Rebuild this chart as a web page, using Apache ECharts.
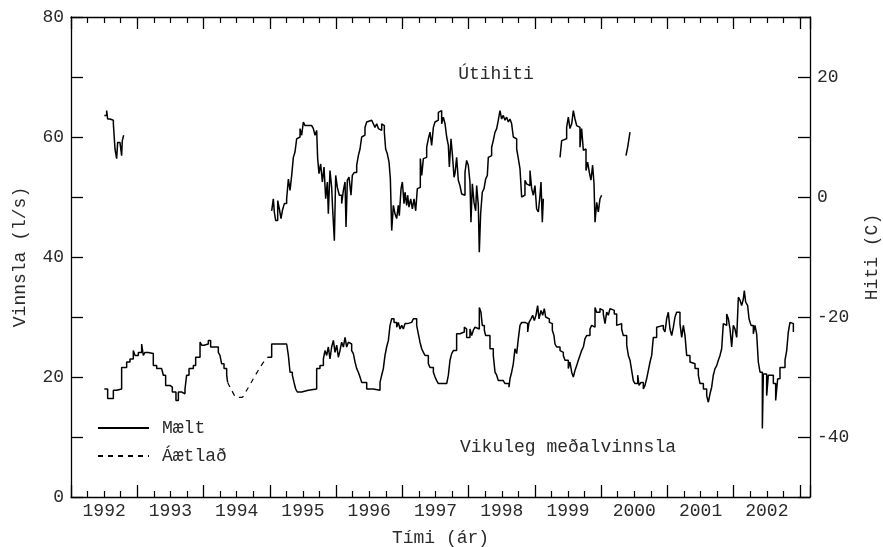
<!DOCTYPE html>
<html>
<head>
<meta charset="utf-8">
<script src="https://cdn.jsdelivr.net/npm/echarts@6/dist/echarts.min.js"></script>
<style>html,body{margin:0;padding:0;background:#fff}#c{width:883px;height:547px}</style>
</head>
<body>
<div id="c"></div>
<script>
// Year labels (drawn at mid-year)
const yearLabels = [1992,1993,1994,1995,1996,1997,1998,1999,2000,2001,2002];

// Weekly mean production (l/s), measured, before the gap
const vinnslaMaeltA = [[1992.503,18.0],[1992.553,16.4],[1992.639,17.8],[1992.689,18.0],[1992.764,21.6],[1992.840,22.5],[1992.890,23.0],[1992.940,24.4],[1992.966,23.6],[1993.016,24.1],[1993.066,25.5],[1993.091,23.6],[1993.117,24.1],[1993.167,23.9],[1993.242,21.9],[1993.293,21.4],[1993.368,21.1],[1993.393,20.3],[1993.428,18.6],[1993.494,18.3],[1993.529,17.5],[1993.584,16.1],[1993.620,17.5],[1993.670,17.2],[1993.720,18.0],[1993.745,20.3],[1993.781,21.4],[1993.846,21.9],[1993.881,23.3],[1993.947,25.8],[1993.972,25.3],[1994.007,25.5],[1994.072,26.1],[1994.107,25.0],[1994.173,25.3],[1994.198,25.0],[1994.223,24.1],[1994.248,23.6],[1994.273,22.2],[1994.309,21.4],[1994.349,20.3],[1994.364,19.1]];

// Estimated production (l/s) across the gap
const vinnslaAetlad = [[1994.364,19.1],[1994.424,17.8],[1994.500,16.6],[1994.575,16.6],[1994.651,17.8],[1994.751,19.7],[1994.852,21.6],[1994.927,22.8],[1994.968,23.3]];

// Weekly mean production (l/s), measured, after the gap
const vinnslaMaeltB = [[1994.968,23.3],[1995.028,25.5],[1995.254,25.5],[1995.280,23.6],[1995.305,20.8],[1995.340,20.3],[1995.365,19.1],[1995.390,18.0],[1995.415,17.5],[1995.481,17.8],[1995.581,18.0],[1995.707,21.4],[1995.757,21.9],[1995.808,23.0],[1995.833,24.4],[1995.858,23.6],[1995.883,25.0],[1995.908,23.0],[1995.933,25.0],[1995.959,26.1],[1995.984,24.1],[1996.009,25.3],[1996.034,23.3],[1996.059,24.4],[1996.084,25.8],[1996.110,25.0],[1996.135,26.6],[1996.160,25.0],[1996.185,25.8],[1996.210,25.5],[1996.235,24.4],[1996.260,23.9],[1996.286,22.5],[1996.311,21.4],[1996.336,20.8],[1996.361,20.0],[1996.386,19.1],[1996.462,18.0],[1996.562,17.8],[1996.663,19.1],[1996.688,20.3],[1996.713,21.4],[1996.738,23.6],[1996.763,25.0],[1996.789,26.1],[1996.814,28.6],[1996.839,29.7],[1996.874,29.1],[1996.914,28.3],[1996.939,29.1],[1996.965,28.0],[1996.990,28.6],[1997.015,28.0],[1997.040,28.9],[1997.075,29.1],[1997.141,29.4],[1997.166,29.7],[1997.216,28.6],[1997.241,27.2],[1997.266,25.8],[1997.292,24.7],[1997.317,24.1],[1997.342,23.6],[1997.392,22.2],[1997.417,21.6],[1997.468,20.8],[1997.493,20.0],[1997.518,19.4],[1997.543,18.9],[1997.669,18.6],[1997.694,20.3],[1997.719,22.8],[1997.744,23.9],[1997.770,24.4],[1997.794,24.4],[1997.819,27.2],[1997.869,27.5],[1997.935,28.3],[1997.955,28.0],[1997.970,26.6],[1998.020,28.0],[1998.046,26.9],[1998.071,27.8],[1998.096,28.3],[1998.121,28.0],[1998.161,31.6],[1998.186,30.8],[1998.206,28.6],[1998.237,27.8],[1998.257,26.9],[1998.322,24.7],[1998.372,23.6],[1998.398,20.8],[1998.423,20.3],[1998.448,19.4],[1998.523,19.1],[1998.549,18.9],[1998.609,18.3],[1998.624,19.7],[1998.649,20.8],[1998.674,22.2],[1998.699,24.7],[1998.725,23.9],[1998.750,26.4],[1998.775,28.6],[1998.800,29.1],[1998.850,29.4],[1998.875,28.9],[1998.891,27.5],[1998.911,29.1],[1998.941,29.7],[1998.966,30.3],[1998.991,29.4],[1999.016,30.3],[1999.041,31.9],[1999.062,29.7],[1999.092,31.1],[1999.117,30.3],[1999.142,31.4],[1999.162,30.0],[1999.192,29.7],[1999.218,29.1],[1999.243,28.9],[1999.263,27.8],[1999.288,26.9],[1999.303,25.5],[1999.328,25.0],[1999.379,24.4],[1999.404,24.1],[1999.429,23.6],[1999.454,22.8],[1999.504,21.4],[1999.529,22.5],[1999.555,20.8],[1999.580,20.0],[1999.605,21.1],[1999.630,21.9],[1999.655,22.8],[1999.680,23.6],[1999.705,24.4],[1999.731,25.0],[1999.756,26.4],[1999.781,26.9],[1999.831,28.0],[1999.856,28.6],[1999.882,28.3],[1999.907,31.6],[1999.932,30.8],[1999.982,31.4],[2000.007,31.1],[2000.032,30.5],[2000.058,28.9],[2000.083,30.8],[2000.108,30.3],[2000.133,31.4],[2000.158,31.1],[2000.198,30.5],[2000.234,28.6],[2000.259,28.9],[2000.309,28.0],[2000.334,26.9],[2000.385,25.3],[2000.410,23.6],[2000.435,22.8],[2000.460,21.1],[2000.485,19.4],[2000.510,18.9],[2000.551,20.3],[2000.571,18.6],[2000.601,19.1],[2000.636,18.0],[2000.661,18.6],[2000.686,19.7],[2000.712,21.1],[2000.737,22.5],[2000.762,23.6],[2000.787,26.6],[2000.837,28.3],[2000.862,28.6],[2000.938,28.0],[2000.963,27.5],[2000.988,29.7],[2001.013,30.8],[2001.038,28.0],[2001.064,26.9],[2001.089,28.3],[2001.114,30.0],[2001.139,30.8],[2001.189,28.9],[2001.215,26.6],[2001.240,28.6],[2001.265,26.9],[2001.290,23.6],[2001.340,22.5],[2001.365,22.2],[2001.416,21.4],[2001.466,20.3],[2001.491,18.9],[2001.542,18.0],[2001.592,16.9],[2001.617,15.8],[2001.642,17.2],[2001.667,18.3],[2001.692,20.3],[2001.718,21.4],[2001.743,21.9],[2001.768,22.8],[2001.793,23.6],[2001.818,24.7],[2001.843,28.9],[2001.868,28.6],[2001.894,30.5],[2001.919,29.7],[2001.944,28.0],[2001.969,25.0],[2001.994,28.6],[2002.019,28.0],[2002.045,26.6],[2002.070,33.3],[2002.095,32.8],[2002.120,31.9],[2002.145,33.0],[2002.160,34.4],[2002.180,32.5],[2002.210,31.9],[2002.231,29.7],[2002.261,28.6],[2002.296,27.2],[2002.321,28.6],[2002.346,27.2],[2002.371,22.5],[2002.397,20.8],[2002.432,11.4],[2002.447,20.5],[2002.497,16.9],[2002.522,20.3],[2002.598,18.9],[2002.633,16.1],[2002.663,19.7],[2002.698,21.6],[2002.774,22.8],[2002.799,24.4],[2002.824,27.5],[2002.849,29.1],[2002.874,28.9],[2002.900,27.5]];

// Outdoor temperature (C), separate measured stretches
const hitiSeg1 = [[1992.503,13.6],[1992.538,14.4],[1992.553,13.0],[1992.588,12.8],[1992.639,12.2],[1992.664,8.0],[1992.689,6.4],[1992.704,9.1],[1992.739,9.4],[1992.764,6.9],[1992.774,9.4],[1992.795,10.3]];
const hitiSeg2 = [[1995.028,-2.3],[1995.053,-0.3],[1995.068,-2.5],[1995.088,-3.9],[1995.119,-0.6],[1995.144,-2.0],[1995.169,-3.6],[1995.189,-2.3],[1995.219,-1.1],[1995.254,-0.3],[1995.280,3.0],[1995.305,1.1],[1995.330,3.6],[1995.355,6.6],[1995.380,7.5],[1995.405,9.7],[1995.430,10.0],[1995.456,11.4],[1995.481,10.3],[1995.506,12.5],[1995.531,11.9],[1995.581,11.9],[1995.632,11.9],[1995.657,11.4],[1995.682,10.3],[1995.707,11.1],[1995.722,6.4],[1995.742,3.9],[1995.767,5.5],[1995.793,2.5],[1995.818,5.0],[1995.843,-0.3],[1995.868,2.5],[1995.883,-2.8],[1995.908,4.4],[1995.933,1.6],[1995.948,-2.0],[1995.974,-7.3],[1995.994,3.6],[1996.019,1.6],[1996.049,0.3],[1996.084,-1.1],[1996.110,1.1],[1996.135,2.5],[1996.150,-5.0],[1996.170,2.8],[1996.195,3.3],[1996.225,0.3],[1996.245,3.6],[1996.275,4.1],[1996.311,5.3],[1996.336,6.9],[1996.361,8.0],[1996.386,10.0],[1996.411,10.3],[1996.436,11.6],[1996.462,12.5],[1996.487,12.8],[1996.537,12.5],[1996.562,12.2],[1996.587,11.6],[1996.613,12.2],[1996.638,11.4],[1996.663,11.1],[1996.688,12.2],[1996.713,11.9],[1996.728,10.8],[1996.748,8.0],[1996.773,7.2],[1996.799,5.8],[1996.819,3.0],[1996.839,-5.6],[1996.864,-1.4],[1996.889,-2.8],[1996.914,-3.6],[1996.939,-1.4],[1996.954,-3.1],[1996.980,1.4],[1997.000,2.5],[1997.025,-1.1],[1997.040,0.8],[1997.065,-1.4],[1997.080,0.3],[1997.100,-1.7],[1997.126,-0.3],[1997.151,-2.0],[1997.176,-0.3],[1997.201,-2.3],[1997.226,1.4],[1997.251,1.6],[1997.271,6.4],[1997.292,3.6],[1997.317,6.4],[1997.342,6.6],[1997.367,8.3],[1997.392,9.7],[1997.417,10.8],[1997.442,8.6],[1997.468,11.6],[1997.493,12.5],[1997.518,12.8],[1997.543,14.1],[1997.568,14.4],[1997.593,12.2],[1997.618,13.3],[1997.644,12.2],[1997.669,10.0],[1997.694,8.6],[1997.709,5.0],[1997.734,9.7],[1997.754,7.2],[1997.780,3.3],[1997.794,3.9],[1997.819,6.6],[1997.844,2.8],[1997.869,1.9],[1997.895,0.5],[1997.920,0.3],[1997.945,4.1],[1997.970,6.1],[1997.995,5.3],[1998.020,2.5],[1998.035,-4.2],[1998.056,2.2],[1998.081,-0.9],[1998.106,-2.3],[1998.121,1.9],[1998.146,-1.4],[1998.161,-9.2],[1998.181,-2.8],[1998.206,0.8],[1998.232,1.4],[1998.257,3.0],[1998.282,3.6],[1998.297,6.6],[1998.322,6.9],[1998.347,8.3],[1998.372,9.4],[1998.398,10.8],[1998.423,11.4],[1998.448,12.8],[1998.473,14.4],[1998.498,13.0],[1998.523,13.6],[1998.549,12.8],[1998.574,13.3],[1998.599,12.5],[1998.624,13.0],[1998.649,12.2],[1998.674,10.0],[1998.699,9.7],[1998.725,8.0],[1998.750,6.4],[1998.775,4.7],[1998.800,0.0],[1998.825,0.3],[1998.850,2.8],[1998.875,2.2],[1998.901,1.9],[1998.926,4.4],[1998.951,1.4],[1998.976,0.3],[1999.001,1.9],[1999.026,-2.0],[1999.052,-2.5],[1999.077,0.3],[1999.092,2.5],[1999.112,-4.2],[1999.127,-0.3]];
const hitiSeg3 = [[1999.379,6.6],[1999.404,9.4],[1999.429,9.7],[1999.479,11.6],[1999.504,13.3],[1999.529,11.4],[1999.555,12.2],[1999.580,14.4],[1999.605,13.0],[1999.630,11.9],[1999.655,11.6],[1999.680,8.3],[1999.705,11.4],[1999.731,7.8],[1999.756,8.0],[1999.771,4.4],[1999.796,5.8],[1999.821,4.1],[1999.846,2.8],[1999.871,5.3],[1999.892,2.2],[1999.907,-4.2],[1999.932,-0.9],[1999.957,-2.5],[1999.982,-0.3],[2000.007,0.3]];
const hitiSeg4 = [[2000.374,6.9],[2000.400,8.3],[2000.425,8.6],[2000.435,10.8]];

const FONT = '"Liberation Mono", "DejaVu Sans Mono", monospace';
const INK = '#2a2a2a';
const FS = 18;

const chart = echarts.init(document.getElementById('c'), null, {renderer: 'canvas'});

const axisLineStyle = {color: '#000', width: 1.3};
const txt = {fontFamily: FONT, fontSize: FS, color: INK};

function lineSeries(name, data, yIdx, dashed) {
  return {
    name: name, type: 'line', xAxisIndex: 0, yAxisIndex: yIdx, data: data,
    showSymbol: false, symbol: 'none', step: dashed ? false : 'end',
    smooth: dashed ? 0.3 : false,
    lineStyle: {color: '#000', width: dashed ? 1.2 : 1.5, type: dashed ? [5, 5] : 'solid'},
    itemStyle: {color: '#000'},
    emphasis: {disabled: true}, silent: true, z: 3
  };
}

const hitiSegs = [hitiSeg1, hitiSeg2, hitiSeg3, hitiSeg4];

const option = {
  animation: false,
  backgroundColor: '#fff',
  grid: {left: 71, top: 17, width: 739, height: 480, containLabel: false, outerBoundsMode: 'none'},
  legend: {
    data: ['Mælt', 'Áætlað'], orient: 'vertical', left: 92, top: 414,
    itemWidth: 51, itemHeight: 14, itemGap: 10, selectedMode: false,
    itemStyle: {opacity: 0},
    textStyle: {fontFamily: FONT, fontSize: FS, color: INK, padding: [0, 0, 0, 8]}
  },
  xAxis: [
    {
      type: 'value', position: 'bottom', min: 1992, max: 2003.151, interval: 1,
      name: 'Tími (ár)', nameLocation: 'middle', nameGap: 32,
      nameTextStyle: txt,
      axisLine: {show: true, onZero: false, lineStyle: axisLineStyle},
      axisTick: {show: true, inside: true, length: 12, lineStyle: axisLineStyle},
      minorTick: {show: true, splitNumber: 4, length: 6, lineStyle: {color: '#000', width: 1.2}},
      axisLabel: Object.assign({margin: 5, customValues: yearLabels.map(y => y + 0.5),
        formatter: v => String(Math.floor(v))}, txt),
      splitLine: {show: false}
    },
    {
      type: 'value', position: 'top', min: 1992, max: 2003.151, interval: 1,
      axisLine: {show: true, onZero: false, lineStyle: axisLineStyle},
      axisTick: {show: true, inside: true, length: 12, lineStyle: axisLineStyle},
      minorTick: {show: true, splitNumber: 4, length: 6, lineStyle: {color: '#000', width: 1.2}},
      axisLabel: {show: false},
      splitLine: {show: false}
    }
  ],
  yAxis: [
    {
      type: 'value', position: 'left', min: 0, max: 80, interval: 10,
      name: 'Vinnsla (l/s)', nameLocation: 'middle', nameGap: 42,
      nameTextStyle: txt,
      axisLine: {show: true, onZero: false, lineStyle: axisLineStyle},
      axisTick: {show: true, inside: true, length: 12, lineStyle: axisLineStyle},
      axisLabel: Object.assign({margin: 7, formatter: v => (v % 20 === 0 ? String(v) : '')}, txt),
      splitLine: {show: false}
    },
    {
      type: 'value', position: 'right', min: -50, max: 30, interval: 10,
      name: 'Hiti (C)', nameLocation: 'middle', nameGap: 53,
      nameTextStyle: txt,
      axisLine: {show: true, onZero: false, lineStyle: axisLineStyle},
      axisTick: {show: true, inside: true, length: 12, lineStyle: axisLineStyle},
      axisLabel: Object.assign({margin: 7, formatter: v => (v % 20 === 0 ? String(v) : '')}, txt),
      splitLine: {show: false}
    }
  ],
  graphic: [
    {type: 'text', x: 496, y: 74, silent: true,
     style: {text: 'Útihiti', font: FS + 'px ' + FONT, fill: INK, align: 'center', verticalAlign: 'middle'}},
    {type: 'text', x: 568, y: 447, silent: true,
     style: {text: 'Vikuleg meðalvinnsla', font: FS + 'px ' + FONT, fill: INK, align: 'center', verticalAlign: 'middle'}}
  ],
  series: [
    lineSeries('Mælt', vinnslaMaeltA, 0, false),
    lineSeries('Mælt', vinnslaMaeltB, 0, false),
    lineSeries('Áætlað', vinnslaAetlad, 0, true)
  ].concat(hitiSegs.map(s => lineSeries('Útihiti', s, 1, false)))
};

chart.setOption(option);
</script>
</body>
</html>
